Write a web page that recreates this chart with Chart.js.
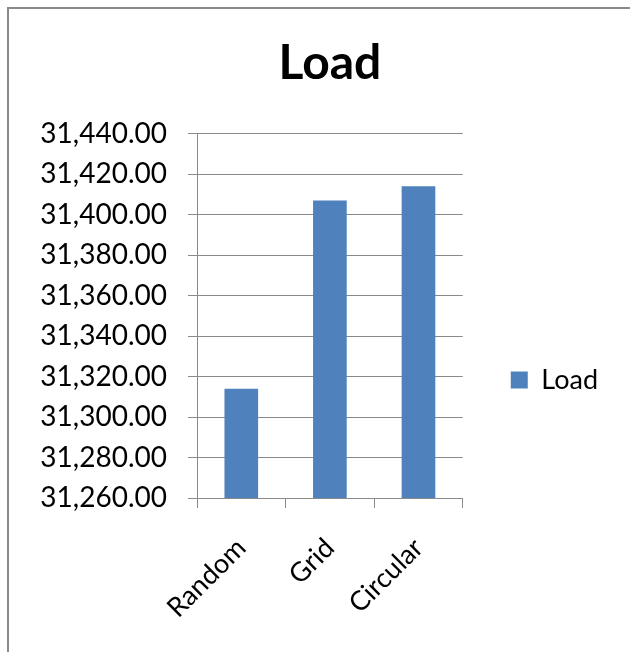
<!DOCTYPE html>
<html>
<head>
<meta charset="utf-8">
<script src="https://cdn.jsdelivr.net/npm/chart.js@4"></script>
<style>
  html, body { margin: 0; padding: 0; background: #fff; overflow: hidden; }
  #frame {
    position: absolute; left: 7px; top: 7px;
    width: 621px; height: 643px; overflow: hidden;
    border-left: 2px solid #8a8a8a; border-top: 2px solid #8a8a8a;
  }
</style>
</head>
<body>
<div id="frame"><canvas id="loadChart" width="621" height="742"></canvas></div>
<script>
const categories = ["Random", "Grid", "Circular"];
const loadValues = [31314, 31407, 31414];
const yMin = 31260;
const yMax = 31440;
const yStep = 20;

const axisGray = "#8a8a8a";
const font = "Lato";

// Excel-style number: 31,440.00
function fmt(v) {
  return v.toLocaleString("en-US", { minimumFractionDigits: 2, maximumFractionDigits: 2 });
}

const ctx = document.getElementById("loadChart").getContext("2d");
new Chart(ctx, {
  type: "bar",
  data: {
    labels: categories,
    datasets: [{
      label: "Load",
      data: loadValues,
      backgroundColor: "#4f81bd",
      borderWidth: 0,
      barPercentage: 0.38,
      categoryPercentage: 1
    }]
  },
  options: {
    responsive: false,
    animation: false,
    devicePixelRatio: 1,
    layout: { padding: { right: 22 } },
    plugins: {
      title: {
        display: true,
        text: "Load",
        fullSize: false,
        color: "#000",
        font: { family: font, size: 48, weight: "bold" },
        padding: { top: 26, bottom: 41 }
      },
      legend: {
        position: "right",
        labels: {
          color: "#000",
          font: { family: font, size: 27 },
          boxWidth: 17,
          boxHeight: 17,
          padding: 48
        }
      },
      tooltip: { enabled: false }
    },
    scales: {
      x: {
        grid: {
          drawOnChartArea: false,
          drawTicks: true,
          tickLength: 10,
          color: axisGray
        },
        border: { color: axisGray },
        ticks: {
          color: "#000",
          font: { family: font, size: 27 },
          minRotation: 45,
          maxRotation: 45,
          padding: 24
        },
        afterFit: (scale) => { scale.height = 742 - 489; }
      },
      y: {
        min: yMin,
        max: yMax,
        grid: { color: axisGray, tickLength: 9 },
        border: { color: axisGray },
        ticks: {
          stepSize: yStep,
          color: "#000",
          font: { family: font, size: 28 },
          padding: 21,
          callback: (v) => fmt(v)
        },
        afterFit: (scale) => { scale.width = 188; }
      }
    }
  }
});
</script>
</body>
</html>
